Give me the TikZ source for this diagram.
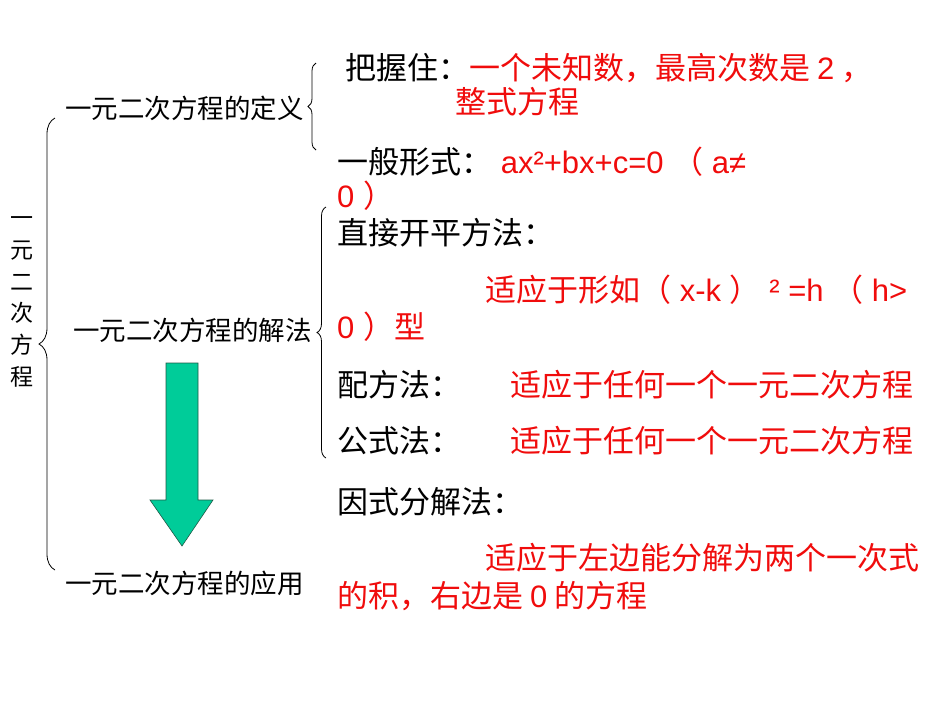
\documentclass[tikz,border=0pt]{standalone}
\usepackage{fontspec}
\setmainfont{Noto Sans CJK SC}
\newfontfamily\latinfont{Liberation Sans}
\usepackage{xcolor}
\definecolor{NoteRed}{RGB}{240,12,12}
\definecolor{ArrowGreen}{RGB}{0,204,153}
\definecolor{ArrowEdge}{RGB}{30,90,70}
\usetikzlibrary{decorations.pathreplacing}
\tikzset{%
  topic/.style={anchor=west, inner sep=0pt, font=\fontsize{26.5}{30}\selectfont,
    text height=23.3pt, text depth=3.2pt},
  item/.style={anchor=west, inner sep=0pt, font=\fontsize{31}{36}\selectfont,
    text height=27.3pt, text depth=3.7pt},
  note/.style={item, text=NoteRed},
  curly/.style={decorate, decoration={brace, amplitude=#1}, line width=0.8pt}
}
\newcommand*{\Lat}[1]{{\latinfont#1}}

\begin{document}
\begin{tikzpicture}[x=1pt,y=-1pt]
    \useasboundingbox (0,0) rectangle (950,713);
    % Title, written top to bottom.
    \node[inner sep=0pt, align=center, font=\fontsize{23}{31.7}\selectfont] (title)
      at (22,302) {一\\元\\二\\次\\方\\程};
    \draw[curly=16] (55,570) -- (55,118);
    % Three topics.
    \node[topic] (def) at (65,108) {一元二次方程的定义};
    \node[topic] (solve) at (73,330) {一元二次方程的解法};
    \node[topic] (apply) at (65,583) {一元二次方程的应用};
    % Definition.
    \draw[curly=8] (316,150) -- (316,63);
    \node[item] (grasp) at (345,68) {把握住：};
    \node[note] (grasp-note) at (469,68) {一个未知数，最高次数是 \Lat{2} ，};
    \node[note] (grasp-note2) at (455,102) {整式方程};
    \node[item] (form) at (337,162)
      {一般形式：\textcolor{NoteRed}{\Lat{ ax²+bx+c=0 }（\Lat{ a≠}}};
    \node[note] (form2) at (337,196) {\Lat{0 }）};
    % Methods of solution.
    \draw[curly=9] (326,458) -- (326,207);
    \node[item] (sqrt) at (337,233) {直接开平方法：};
    \node[note] (sqrt-note) at (485,290) {适应于形如（\Lat{ x-k }）\Lat{ ² =h }（\Lat{ h>}};
    \node[note] (sqrt-note2) at (337,327) {\Lat{0 }）型};
    \node[item] (square) at (337,385) {配方法：};
    \node[note] (square-note) at (510,385) {适应于任何一个一元二次方程};
    \node[item] (formula) at (337,441) {公式法：};
    \node[note] (formula-note) at (510,441) {适应于任何一个一元二次方程};
    \node[item] (factor) at (337,502) {因式分解法：};
    \node[note] (factor-note) at (485,558) {适应于左边能分解为两个一次式};
    \node[note] (factor-note2) at (337,596) {的积，右边是 \Lat{0} 的方程};
    % Block arrow from solving to applying.
    \draw[fill=ArrowGreen, draw=ArrowEdge, line width=0.6pt]
      (166,363) -- (198,363) -- (198,500) -- (213,500) -- (182,546)
      -- (150,500) -- (166,500) -- cycle;
\end{tikzpicture}
\end{document}
